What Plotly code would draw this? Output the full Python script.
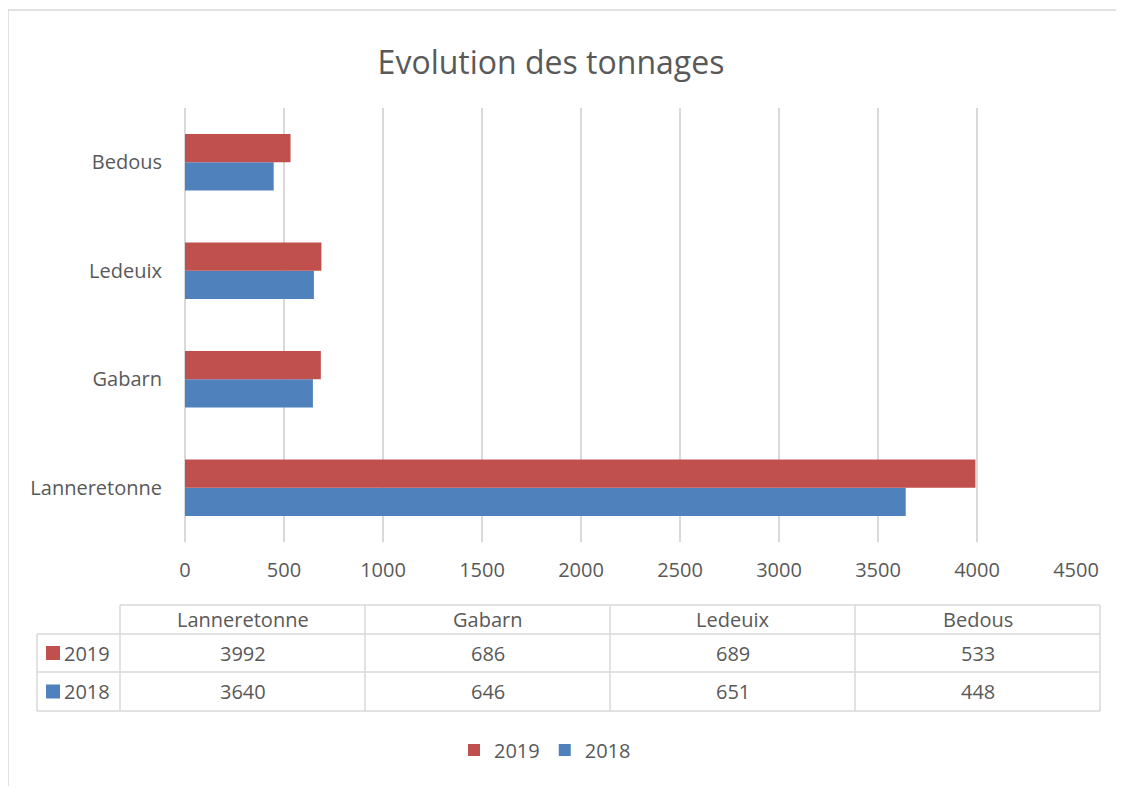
import plotly.graph_objects as go

categories = ["Lanneretonne", "Gabarn", "Ledeuix", "Bedous"]
values_2019 = [3992, 686, 689, 533]
values_2018 = [3640, 646, 651, 448]
tick_values = [0, 500, 1000, 1500, 2000, 2500, 3000, 3500, 4000, 4500]

RED = "#c0504d"
BLUE = "#4f81bd"
GRID = "#d9d9d9"
TEXT = "#595959"
FONT = "Open Sans"

OFF = 8  # page body margin
W, H = 1124 - 2 * OFF, 794 - 2 * OFF
L, R, T, B = 185 - OFF, 1076 - OFF, 108 - OFF, 542 - OFF  # plot area in figure pixels


def px(x):
    # x in screenshot pixels -> paper coords
    return (x - OFF - L) / (R - L)


def py(y):
    return (B - (y - OFF)) / (B - T)


fig = go.Figure()
fig.add_trace(go.Bar(y=categories, x=values_2018, name="2018", orientation="h",
                     marker=dict(color=BLUE, line=dict(width=0))))
fig.add_trace(go.Bar(y=categories, x=values_2019, name="2019", orientation="h",
                     marker=dict(color=RED, line=dict(width=0))))

shapes = []
annotations = []

# outer chart border
shapes.append(dict(type="rect", xref="paper", yref="paper",
                   x0=px(8), x1=px(1140), y0=py(10), y1=py(810),
                   line=dict(color=GRID, width=1.5)))

# data table
col_edges = [120, 365, 610, 855, 1100]
row_edges = [605, 634, 672, 711]
label_left = 37
line = dict(color=GRID, width=1.5)
shapes.append(dict(type="line", xref="paper", yref="paper",
                   x0=px(col_edges[0]), x1=px(col_edges[-1]), y0=py(row_edges[0]), y1=py(row_edges[0]), line=line))
for ry in row_edges[1:]:
    shapes.append(dict(type="line", xref="paper", yref="paper",
                       x0=px(label_left), x1=px(col_edges[-1]), y0=py(ry), y1=py(ry), line=line))
for cx in col_edges:
    shapes.append(dict(type="line", xref="paper", yref="paper",
                       x0=px(cx), x1=px(cx), y0=py(row_edges[0]), y1=py(row_edges[-1]), line=line))
shapes.append(dict(type="line", xref="paper", yref="paper",
                   x0=px(label_left), x1=px(label_left), y0=py(row_edges[1]), y1=py(row_edges[-1]), line=line))

cell_font = dict(family=FONT, size=20, color=TEXT)


def cell(x, y, text, anchor="center"):
    annotations.append(dict(x=px(x), y=py(y), xref="paper", yref="paper", xanchor=anchor,
                            yanchor="middle", text=text, showarrow=False, font=cell_font))


for i, cat in enumerate(categories):
    cx = (col_edges[i] + col_edges[i + 1]) / 2
    cell(cx, (row_edges[0] + row_edges[1]) / 2, cat)
    cell(cx, (row_edges[1] + row_edges[2]) / 2, str(values_2019[i]))
    cell(cx, (row_edges[2] + row_edges[3]) / 2, str(values_2018[i]))

# row labels with color keys
for name, color, r in [("2019", RED, 1), ("2018", BLUE, 2)]:
    yc = (row_edges[r] + row_edges[r + 1]) / 2
    shapes.append(dict(type="rect", xref="paper", yref="paper",
                       x0=px(46), x1=px(60), y0=py(yc - 7), y1=py(yc + 7),
                       fillcolor=color, line=dict(width=0)))
    cell(62, yc, name, anchor="left")

fig.update_layout(
    width=W, height=H,
    title=dict(text="Evolution des tonnages", xref="container", x=(551 - OFF) / W, xanchor="center",
               y=1 - (63 - OFF) / H, yanchor="middle", font=dict(family=FONT, size=32, color=TEXT)),
    barmode="group",
    bargap=0.48,
    bargroupgap=0,
    margin=dict(l=L, r=W - R, t=T, b=H - B),
    paper_bgcolor="white",
    plot_bgcolor="white",
    font=dict(family=FONT, size=20, color=TEXT),
    xaxis=dict(range=[0, 4500], tickvals=tick_values, showgrid=True, gridcolor=GRID, gridwidth=1.5,
               zeroline=True, zerolinecolor=GRID, zerolinewidth=1.5, showline=False, ticks="",
               ticklabelstandoff=14, tickfont=dict(family=FONT, size=20, color=TEXT)),
    yaxis=dict(showgrid=False, showline=False, ticks="", ticklabelstandoff=22,
               tickfont=dict(family=FONT, size=20, color=TEXT)),
    legend=dict(orientation="h", traceorder="reversed", x=px(545), xanchor="center",
                y=py(750), yanchor="middle", font=dict(family=FONT, size=20, color=TEXT),
                itemwidth=30),
    shapes=shapes,
    annotations=annotations,
)

fig.write_html("out.html")
